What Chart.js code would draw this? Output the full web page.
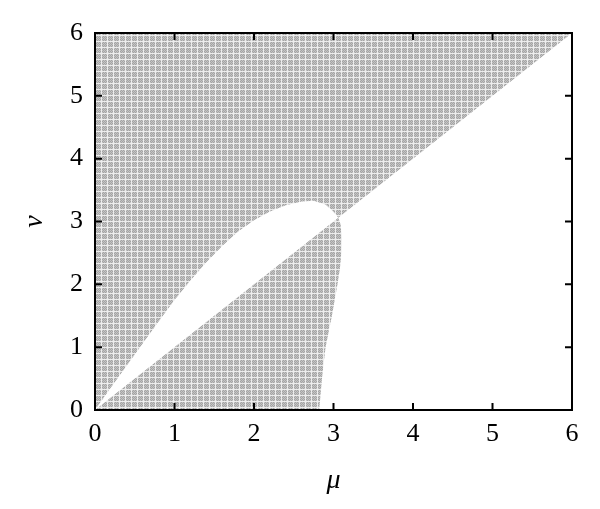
<!DOCTYPE html>
<html>
<head>
<meta charset="utf-8">
<script src="https://cdn.jsdelivr.net/npm/chart.js@4.4.0/dist/chart.umd.min.js"></script>
<style>
  html, body { margin: 0; background: #fff; }
  #wrap { width: 600px; height: 509px; }
</style>
</head>
<body>
<div id="wrap"><canvas id="chart"></canvas></div>
<script>
// upper edge of the white lens, from the origin to the pinch on the diagonal
const lensMu = [0, 0.2, 0.4, 0.6, 0.8, 1.0, 1.2, 1.4, 1.6, 1.8, 2.0, 2.2, 2.4, 2.6, 2.75, 2.9, 2.98, 3.03, 3.06];
const lensNu = [0, 0.36, 0.71, 1.06, 1.41, 1.75, 2.06, 2.35, 2.61, 2.84, 3.02, 3.16, 3.26, 3.32, 3.33, 3.27, 3.18, 3.11, 3.06];
// right edge of the lower gray region, from the pinch down to the mu axis
const edgeNu = [3.06, 2.95, 2.75, 2.5, 2.25, 2.0, 1.5, 1.0, 0.5, 0];
const edgeMu = [3.06, 3.09, 3.105, 3.10, 3.08, 3.05, 2.98, 2.90, 2.855, 2.82];
// axis range and tick labels
const axisMin = 0;
const axisMax = 6;
const tickValues = [0, 1, 2, 3, 4, 5, 6];

const serif = '"Liberation Serif", "DejaVu Serif", serif';

// dotted gray texture like the original raster
function grayPattern() {
    const c = document.createElement('canvas');
    c.width = 6; c.height = 6;
    const g = c.getContext('2d');
    for (let i = 0; i < 6; i++) {
        for (let j = 0; j < 6; j++) {
            if (i === 5 || j === 5) g.fillStyle = '#ededed';
            else g.fillStyle = (i + j) % 2 ? '#a4a4a4' : '#c4c4c4';
            g.fillRect(i, j, 1, 1);
        }
    }
    return g.createPattern(c, 'repeat');
}

// upper region: above the diagonal, outside the lens
const upperPts = lensMu.map((m, i) => ({ x: m, y: lensNu[i] }));
upperPts.push({ x: axisMax, y: axisMax }, { x: axisMin, y: axisMax }, { x: axisMin, y: axisMin });

// lower region: below the diagonal, left of the edge curve
const lowerPts = [{ x: axisMin, y: axisMin }];
edgeNu.forEach((n, i) => lowerPts.push({ x: edgeMu[i], y: n }));
lowerPts.push({ x: axisMin, y: axisMin });

const fill = grayPattern();

// box border and inward ticks on all four sides
const frame = {
    id: 'frame',
    afterDraw(chart) {
        const { ctx, chartArea: a, scales } = chart;
        ctx.save();
        ctx.strokeStyle = '#000';
        ctx.lineWidth = 2;
        ctx.strokeRect(a.left, a.top, a.right - a.left, a.bottom - a.top);
        ctx.beginPath();
        tickValues.slice(1, -1).forEach(v => {
            const px = scales.x.getPixelForValue(v);
            const py = scales.y.getPixelForValue(v);
            ctx.moveTo(px, a.bottom); ctx.lineTo(px, a.bottom - 7);
            ctx.moveTo(px, a.top); ctx.lineTo(px, a.top + 7);
            ctx.moveTo(a.left, py); ctx.lineTo(a.left + 7, py);
            ctx.moveTo(a.right, py); ctx.lineTo(a.right - 7, py);
        });
        ctx.stroke();
        ctx.restore();
    }
};

new Chart(document.getElementById('chart').getContext('2d'), {
    type: 'scatter',
    data: {
        datasets: [{
            data: upperPts,
            showLine: true,
            fill: 'shape',
            backgroundColor: fill,
            borderWidth: 0,
            pointRadius: 0,
            tension: 0
        }, {
            data: lowerPts,
            showLine: true,
            fill: 'shape',
            backgroundColor: fill,
            borderWidth: 0,
            pointRadius: 0,
            tension: 0
        }]
    },
    options: {
        responsive: true,
        maintainAspectRatio: false,
        animation: false,
        layout: { padding: { top: 33, right: 28, left: 0, bottom: 0 } },
        plugins: { legend: { display: false }, tooltip: { enabled: false } },
        scales: {
            x: {
                type: 'linear',
                min: axisMin,
                max: axisMax,
                afterFit: s => { s.height = 99; },
                afterBuildTicks: s => { s.ticks = tickValues.map(v => ({ value: v })); },
                ticks: { padding: 9, color: '#000', font: { family: serif, size: 26 } },
                grid: { display: false, drawTicks: false },
                border: { display: false },
                title: {
                    display: true, text: 'μ', color: '#000',
                    font: { family: serif, size: 28, style: 'italic' },
                    padding: { top: 0, bottom: 12 }
                }
            },
            y: {
                type: 'linear',
                min: axisMin,
                max: axisMax,
                afterFit: s => { s.width = 95; },
                afterBuildTicks: s => { s.ticks = tickValues.map(v => ({ value: v })); },
                ticks: { padding: 12, color: '#000', font: { family: serif, size: 26 } },
                grid: { display: false, drawTicks: false },
                border: { display: false },
                title: {
                    display: true, text: 'ν', color: '#000',
                    font: { family: serif, size: 28, style: 'italic' },
                    padding: { top: 18, bottom: 0 }
                }
            }
        }
    },
    plugins: [frame]
});
</script>
</body>
</html>
